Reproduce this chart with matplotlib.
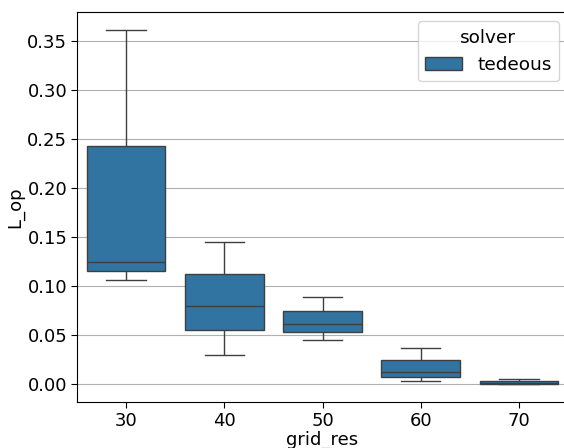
import matplotlib
matplotlib.use("Agg")
import matplotlib.pyplot as plt
import seaborn as sns
import pandas as pd

grid_res = [30, 40, 50, 60, 70]
solver = "tedeous"
# five values per group: min, q1, median, q3, max
l_op_30 = [0.1064, 0.1157, 0.1249, 0.2436, 0.3620]
l_op_40 = [0.0297, 0.0553, 0.0803, 0.1130, 0.1453]
l_op_50 = [0.0455, 0.0532, 0.0614, 0.0752, 0.0890]
l_op_60 = [0.0036, 0.0077, 0.0123, 0.0251, 0.0374]
l_op_70 = [0.0000, 0.0002, 0.0010, 0.0030, 0.0056]

groups = [l_op_30, l_op_40, l_op_50, l_op_60, l_op_70]
rows = []
for g, vals in zip(grid_res, groups):
    for v in vals:
        rows.append({"grid_res": g, "L_op": v, "solver": solver})
df = pd.DataFrame(rows)

fs = 13
plt.rcParams['font.size'] = fs
fig = plt.figure(figsize=(5.64, 4.48), dpi=100)
ax = fig.add_axes([77/564, (448-402)/448, (568-77)/564, (402-12)/448])
sns.boxplot(data=df, x="grid_res", y="L_op", hue="solver", ax=ax)
ax.grid(axis='y')
ax.set_xlabel("grid_res", fontsize=fs, labelpad=1)
ax.set_ylabel("L_op", fontsize=fs, labelpad=2)
ax.tick_params(labelsize=fs, length=4, pad=3)
ax.legend(title="solver", loc="upper right", fontsize=13.3, title_fontsize=13.3,
          bbox_to_anchor=(1.0, 1.0))
fig.savefig("out.png", dpi=100)
